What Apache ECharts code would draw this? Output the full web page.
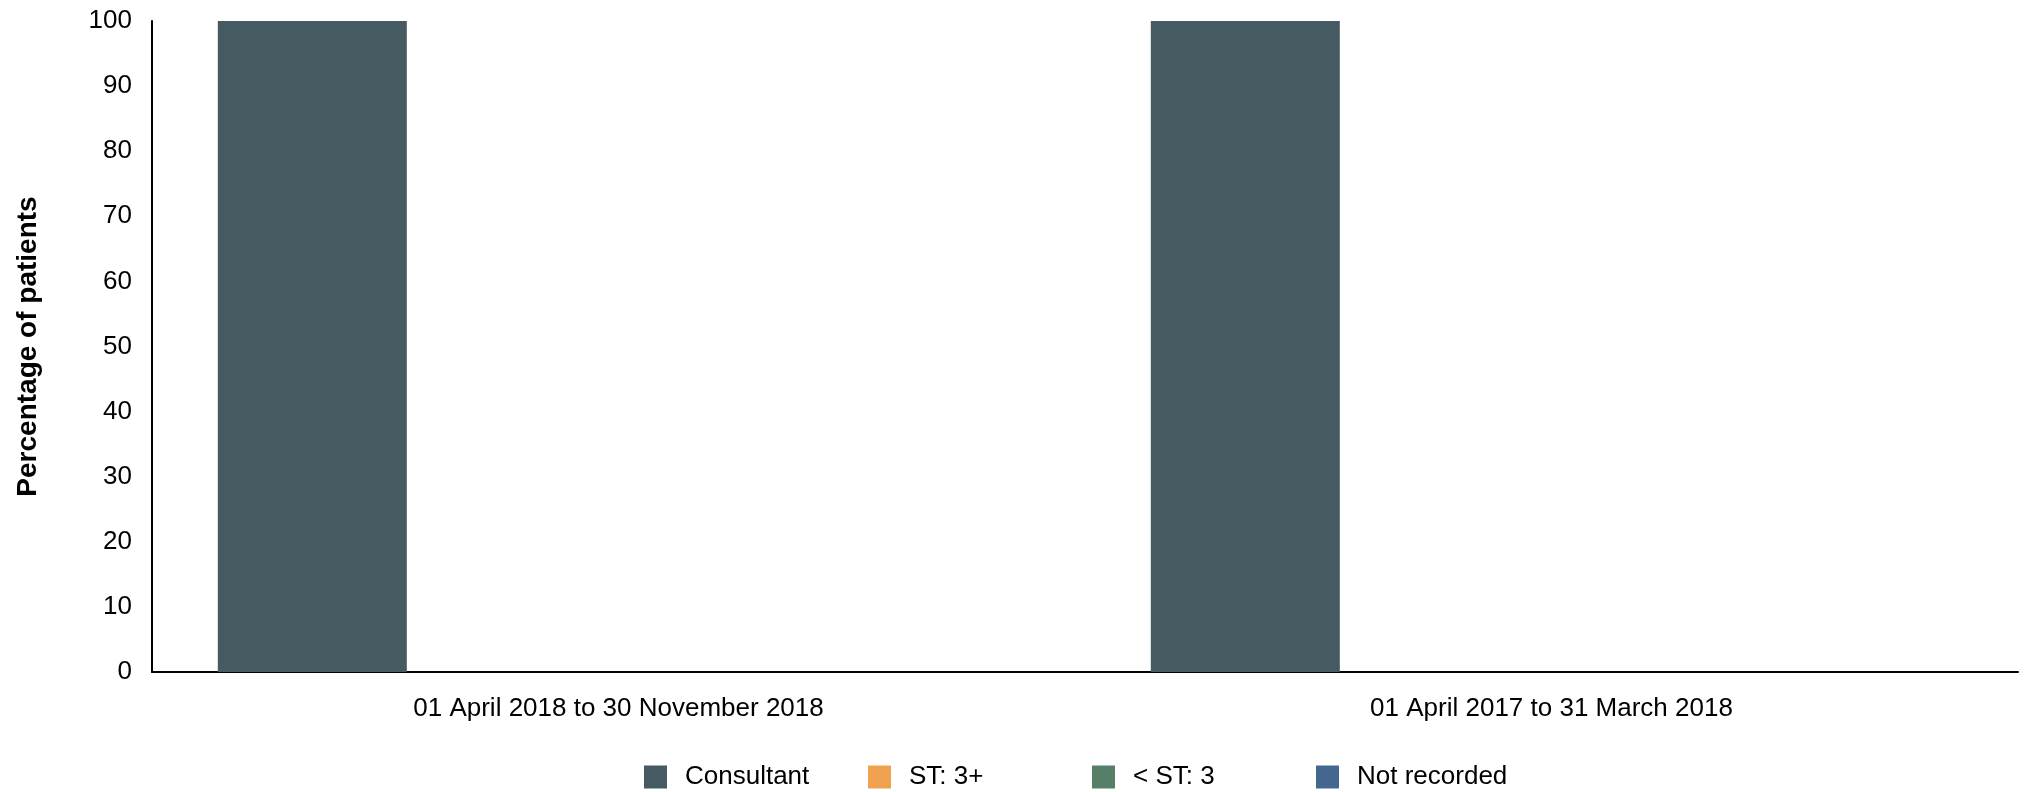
<!DOCTYPE html>
<html>
<head>
<meta charset="utf-8">
<script src="https://cdn.jsdelivr.net/npm/echarts@6/dist/echarts.min.js"></script>
<style>
  html, body { margin: 0; padding: 0; background: #ffffff; }
  #chart { width: 2031px; height: 792px; }
</style>
</head>
<body>
<div id="chart"></div>
<script>
// Grade of the most senior clinician, by reporting period
const categories = ['01 April 2018 to 30 November 2018', '01 April 2017 to 31 March 2018'];
const seriesNames = ['Consultant', 'ST: 3+', '< ST: 3', 'Not recorded'];
const consultant = [100, 100];
const st3plus = [0, 0];
const belowSt3 = [0, 0];
const notRecorded = [0, 0];
const yTicks = [0, 10, 20, 30, 40, 50, 60, 70, 80, 90, 100];

const colors = ['#465a62', '#f0a150', '#557f66', '#44678f'];
const font = '"Liberation Sans", Arial, sans-serif';
const values = [consultant, st3plus, belowSt3, notRecorded];

const chart = echarts.init(document.getElementById('chart'), null, { renderer: 'canvas' });

// One legend block per series so every entry takes the same horizontal slot
const legendStart = 644;
const legendSlot = 224;
const legends = seriesNames.map((name, i) => ({
  data: [name],
  left: legendStart + i * legendSlot,
  top: 764,
  padding: 0,
  itemWidth: 23,
  itemHeight: 23,
  icon: 'rect',
  textStyle: {
    fontFamily: font,
    fontSize: 26,
    color: '#000000',
    padding: [0, 0, 0, 13]
  }
}));

chart.setOption({
  animation: false,
  backgroundColor: '#ffffff',
  grid: { left: 152, right: 13, top: 21, bottom: 120, containLabel: false },
  legend: legends,
  xAxis: {
    type: 'category',
    data: categories,
    axisLine: { show: true, lineStyle: { color: '#000000', width: 2 } },
    axisTick: { show: false },
    axisLabel: { fontFamily: font, fontSize: 26, color: '#000000', margin: 24 },
    splitLine: { show: false }
  },
  yAxis: {
    type: 'value',
    min: yTicks[0],
    max: yTicks[yTicks.length - 1],
    interval: yTicks[1] - yTicks[0],
    name: 'Percentage of patients',
    nameLocation: 'middle',
    nameGap: 110,
    nameTextStyle: { fontFamily: font, fontSize: 28, fontWeight: 'bold', color: '#000000' },
    axisLine: { show: true, lineStyle: { color: '#000000', width: 2 } },
    axisTick: { show: false },
    axisLabel: { fontFamily: font, fontSize: 26, color: '#000000', margin: 20 },
    splitLine: { show: false }
  },
  series: seriesNames.map((name, i) => ({
    name: name,
    type: 'bar',
    data: values[i],
    barWidth: 189,
    barGap: '8%',
    itemStyle: { color: colors[i] }
  }))
});
</script>
</body>
</html>
